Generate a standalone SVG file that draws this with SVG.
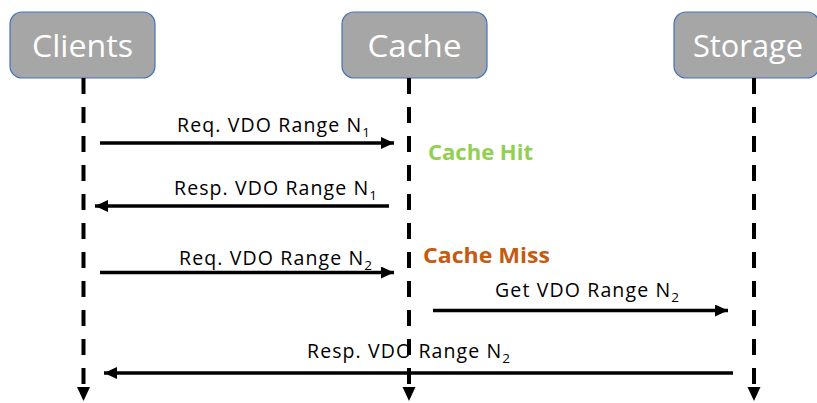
<svg xmlns="http://www.w3.org/2000/svg" width="817" height="403" viewBox="0 0 817 403">
<defs>
<marker id="ah" markerUnits="userSpaceOnUse" markerWidth="13" markerHeight="12" refX="13" refY="6" orient="auto">
<path d="M0,0 L13,6 L0,12 z" fill="#000"/>
</marker>
<style>
.box{fill:#A6A6A6;stroke:#4472C4;stroke-width:1.2}
.bt{font-family:"Open Sans","Liberation Sans",Arial,sans-serif;font-size:31px;fill:#fff;text-anchor:middle}
.life{stroke:#000;stroke-width:4;stroke-dasharray:16 13;fill:none}
.msg{stroke:#000;stroke-width:3.5;fill:none;marker-end:url(#ah)}
.lbl{font-family:"Open Sans","Liberation Sans",Arial,sans-serif;font-size:19.5px;fill:#000}
.sub{font-size:13.5px}
.st{font-family:"Open Sans","Liberation Sans",Arial,sans-serif;font-size:21px;font-weight:bold}
</style>
</defs>
<g id="clients">
<rect class="box" x="10" y="12" width="145" height="66" rx="12"/>
<text class="bt" x="82.5" y="57" textLength="101" lengthAdjust="spacingAndGlyphs">Clients</text>
</g>
<g id="cache">
<rect class="box" x="342" y="12" width="145" height="66" rx="12"/>
<text class="bt" x="414.5" y="57" textLength="94" lengthAdjust="spacingAndGlyphs">Cache</text>
</g>
<g id="storage">
<rect class="box" x="674" y="12" width="145" height="66" rx="12"/>
<text class="bt" x="748" y="57" textLength="110" lengthAdjust="spacingAndGlyphs">Storage</text>
</g>
<g id="lifelines">
<line class="life" x1="83.5" y1="78" x2="83.5" y2="386"/>
<polygon points="77,387 90,387 83.5,401" fill="#000"/>
<line class="life" x1="409" y1="78" x2="409" y2="386"/>
<polygon points="402.5,387 415.5,387 409,401" fill="#000"/>
<line class="life" x1="754" y1="78" x2="754" y2="386"/>
<polygon points="747.5,387 760.5,387 754,401" fill="#000"/>
</g>
<g id="connectors">
<line class="msg" x1="100" y1="143" x2="394" y2="143"/>
<line class="msg" x1="389" y1="206" x2="95" y2="206"/>
<line class="msg" x1="100" y1="272.5" x2="394" y2="272.5"/>
<line class="msg" x1="433" y1="310.5" x2="728" y2="310.5"/>
<line class="msg" x1="733" y1="373" x2="104" y2="373"/>
</g>
<g id="labels">
<text class="lbl" x="177" y="132" textLength="193" lengthAdjust="spacing">Req. VDO Range N<tspan class="sub" dy="5">1</tspan></text>
<text class="lbl" x="174" y="195" textLength="203" lengthAdjust="spacing">Resp. VDO Range N<tspan class="sub" dy="5">1</tspan></text>
<text class="lbl" x="179" y="265" textLength="193" lengthAdjust="spacing">Req. VDO Range N<tspan class="sub" dy="5">2</tspan></text>
<text class="lbl" x="495" y="297" textLength="184" lengthAdjust="spacing">Get VDO Range N<tspan class="sub" dy="5">2</tspan></text>
<text class="lbl" x="307" y="358" textLength="203" lengthAdjust="spacing">Resp. VDO Range N<tspan class="sub" dy="5">2</tspan></text>
<text class="st" x="428" y="160" fill="#92D050" textLength="105" lengthAdjust="spacingAndGlyphs">Cache Hit</text>
<text class="st" x="423" y="263" fill="#C55A11" textLength="127" lengthAdjust="spacingAndGlyphs">Cache Miss</text>
</g>
</svg>
